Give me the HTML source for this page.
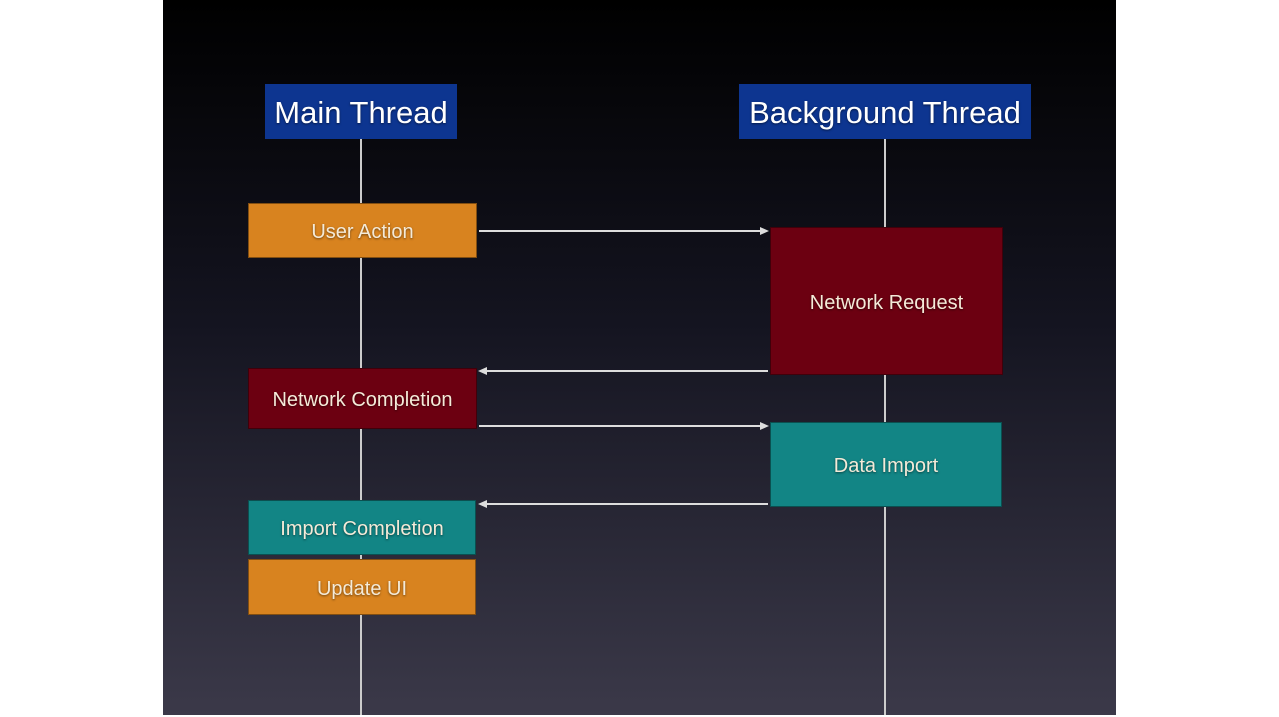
<!DOCTYPE html>
<html><head><style>
body{margin:0;width:1279px;height:717px;background:#fff;position:relative;overflow:hidden;font-family:"Liberation Sans",sans-serif}
#s{position:absolute;left:163px;top:0;width:953px;height:715px;background:linear-gradient(#000 0%,#141420 45%,#3b3949 100%)}
.b{position:absolute;display:flex;align-items:center;justify-content:center;color:#f4ead8;font-size:20px;box-sizing:border-box;border:1px solid rgba(0,0,0,.4);text-shadow:0 1px 2px rgba(0,0,0,.5);padding-top:4px}
.h{background:#0d3590;color:#fff;font-size:31px;border:none;padding-top:3px}
.o{background:#d8831f}.r{background:#6c0011}.t{background:#128585}
.l{position:absolute;width:2px;background:#ccc}
</style></head><body>
<div id="s"></div>
<div class="l" style="left:360px;top:139px;height:576px"></div>
<div class="l" style="left:884px;top:139px;height:576px"></div>
<div class="b h" style="left:265px;top:84px;width:192px;height:55px">Main Thread</div>
<div class="b h" style="left:739px;top:84px;width:292px;height:55px">Background Thread</div>
<div class="b o" style="left:248px;top:203px;width:229px;height:55px">User Action</div>
<div class="b r" style="left:770px;top:227px;width:233px;height:148px">Network Request</div>
<div class="b r" style="left:248px;top:368px;width:229px;height:61px">Network Completion</div>
<div class="b t" style="left:770px;top:422px;width:232px;height:85px">Data Import</div>
<div class="b t" style="left:248px;top:500px;width:228px;height:55px">Import Completion</div>
<div class="b o" style="left:248px;top:559px;width:228px;height:56px">Update UI</div>
<svg width="1279" height="717" style="position:absolute;left:0;top:0">
<g stroke="#ddd" stroke-width="2" fill="#ddd">
<line x1="479" y1="231" x2="762" y2="231"/><polygon points="769,231 760,227 760,235" stroke="none"/>
<line x1="486" y1="371" x2="768" y2="371"/><polygon points="478,371 487,367 487,375" stroke="none"/>
<line x1="479" y1="426" x2="762" y2="426"/><polygon points="769,426 760,422 760,430" stroke="none"/>
<line x1="486" y1="504" x2="768" y2="504"/><polygon points="478,504 487,500 487,508" stroke="none"/>
</g></svg>
</body></html>
